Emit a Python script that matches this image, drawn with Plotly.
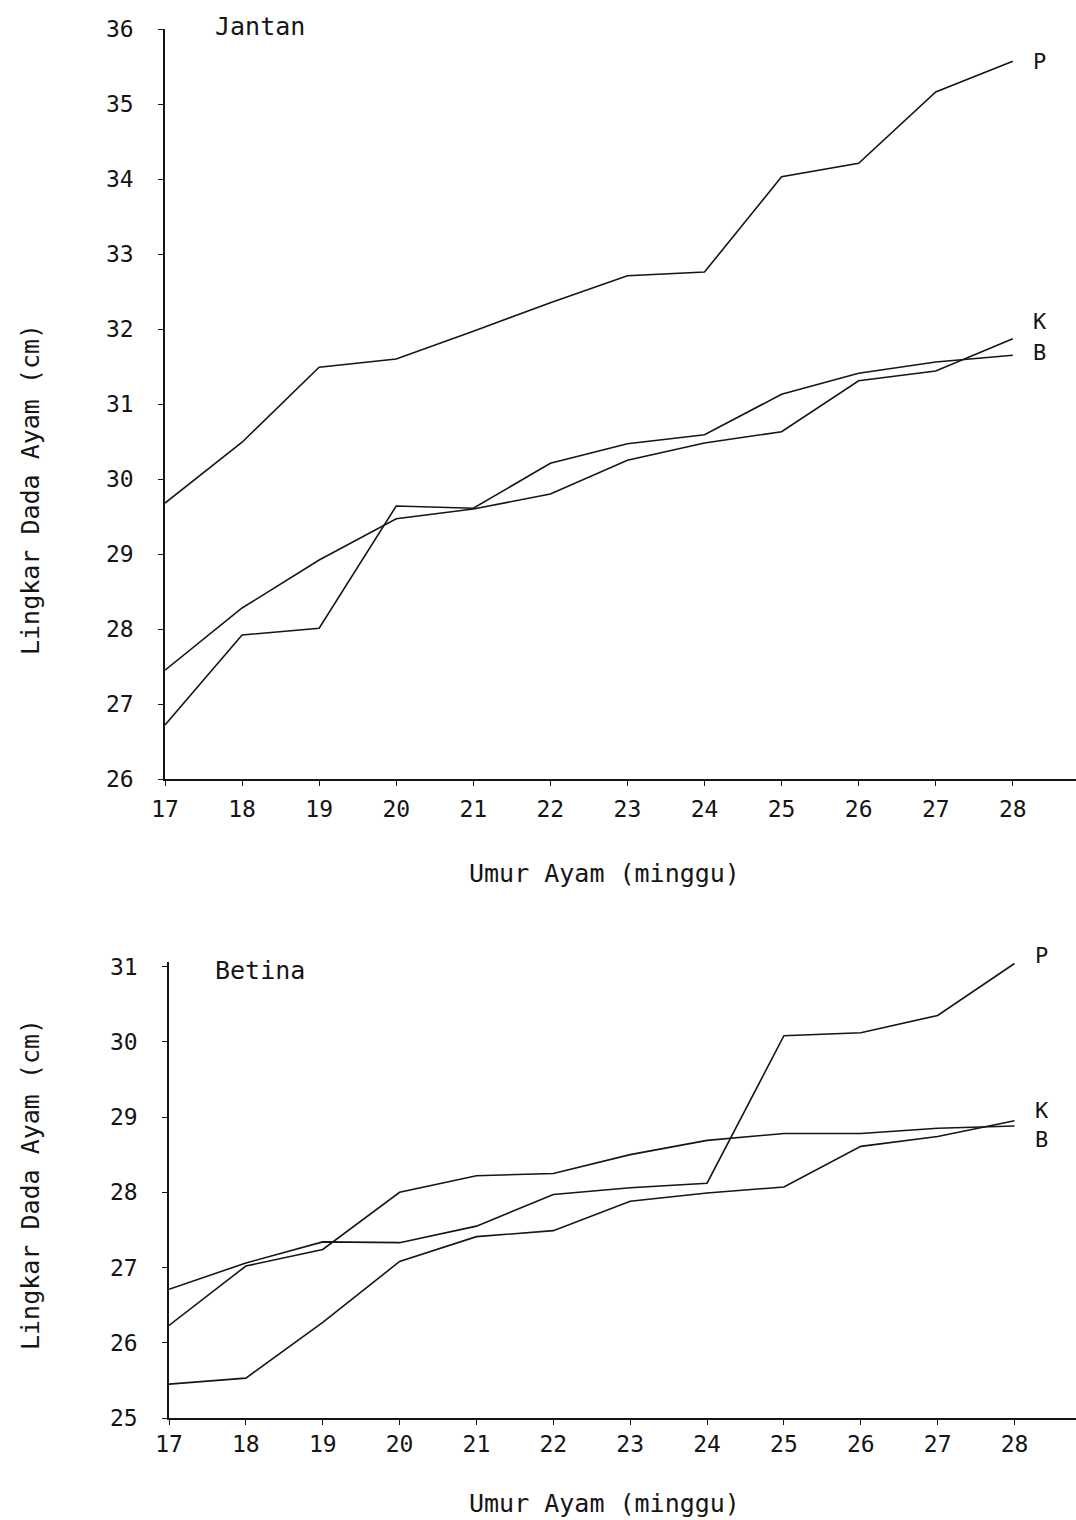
import plotly.graph_objects as go

# Umur ayam (minggu)
weeks = [17, 18, 19, 20, 21, 22, 23, 24, 25, 26, 27, 28]

# Lingkar dada ayam jantan (cm)
jantan_p = [29.68, 30.49, 31.49, 31.60, 31.97, 32.35, 32.71, 32.76, 34.03, 34.21, 35.16, 35.57]
jantan_k = [27.45, 28.28, 28.92, 29.47, 29.60, 29.80, 30.25, 30.48, 30.63, 31.31, 31.44, 31.87]
jantan_b = [26.72, 27.92, 28.01, 29.64, 29.61, 30.21, 30.47, 30.59, 31.13, 31.41, 31.56, 31.65]

# Lingkar dada ayam betina (cm)
betina_p = [26.71, 27.06, 27.34, 27.33, 27.55, 27.97, 28.06, 28.12, 30.08, 30.12, 30.35, 31.04]
betina_k = [25.45, 25.53, 26.27, 27.08, 27.41, 27.49, 27.88, 27.99, 28.07, 28.61, 28.74, 28.95]
betina_b = [26.23, 27.02, 27.24, 28.00, 28.22, 28.25, 28.50, 28.69, 28.78, 28.78, 28.85, 28.88]

series_names = ["P", "K", "B"]
jantan_ticks = list(range(26, 37))
betina_ticks = list(range(25, 32))

FONT = "DejaVu Sans Mono"
INK = "#151515"
H = 1520.0
W = 1076.0

fig = go.Figure()

# (x axis, y axis, series, label pixel shifts, y range)
panels = [
    ("x", "y", [jantan_p, jantan_k, jantan_b], [0, 17, 3], [26, 36]),
    ("x2", "y2", [betina_p, betina_k, betina_b], [8, 10, -13], [25, 31.06]),
]

for xa, ya, data, shifts, yr in panels:
    for name, vals, ys in zip(series_names, data, shifts):
        fig.add_trace(go.Scatter(
            x=weeks, y=vals, mode="lines", name=name,
            line=dict(color=INK, width=1.6),
            xaxis=xa, yaxis=ya, showlegend=False,
        ))
        fig.add_annotation(
            x=weeks[-1], y=min(vals[-1], yr[1]), xref=xa, yref=ya,
            text=name, showarrow=False, xanchor="left",
            xshift=18, yshift=ys,
            font=dict(family=FONT, size=22, color=INK),
        )

axis_common = dict(
    showgrid=False, zeroline=False, showline=True, automargin=False,
    linecolor=INK, linewidth=1.6,
    ticks="outside", ticklen=5, tickcolor=INK, tickwidth=1.2,
    tickfont=dict(family=FONT, size=23, color=INK),
)

fig.update_layout(
    width=1076, height=1520,
    margin=dict(l=0, r=0, t=0, b=0, autoexpand=False),
    paper_bgcolor="white", plot_bgcolor="white",
    xaxis=dict(domain=[165 / W, 1.0], range=[17, 28.82], anchor="y",
               tickvals=weeks, ticklabelstandoff=4, **axis_common),
    yaxis=dict(domain=[1 - 779 / H, 1 - 29 / H], range=[26, 36], anchor="x",
               tickvals=jantan_ticks, ticklabelstandoff=20, **axis_common),
    xaxis2=dict(domain=[169 / W, 1.0], range=[17, 28.8], anchor="y2",
                tickvals=weeks, ticklabelstandoff=0, **axis_common),
    yaxis2=dict(domain=[1 - 1418 / H, 1 - 962 / H], range=[25, 31.06], anchor="x2",
                tickvals=betina_ticks, ticklabelstandoff=20, **axis_common),
)

# Judul panel
for text, ypx in [("Jantan", 27), ("Betina", 970)]:
    fig.add_annotation(
        x=213 / W, y=1 - ypx / H, xref="paper", yref="paper",
        text=text, showarrow=False, xanchor="left", yanchor="middle",
        font=dict(family=FONT, size=25, color=INK),
    )

# Judul sumbu
for ypx in [873, 1503]:
    fig.add_annotation(
        x=604 / W, y=1 - ypx / H, xref="paper", yref="paper",
        text="Umur Ayam (minggu)", showarrow=False,
        xanchor="center", yanchor="middle",
        font=dict(family=FONT, size=25, color=INK),
    )
for ypx in [490, 1185]:
    fig.add_annotation(
        x=30 / W, y=1 - ypx / H, xref="paper", yref="paper",
        text="Lingkar Dada Ayam (cm)", showarrow=False, textangle=-90,
        xanchor="center", yanchor="middle",
        font=dict(family=FONT, size=25, color=INK),
    )

fig.write_html("out.html")
